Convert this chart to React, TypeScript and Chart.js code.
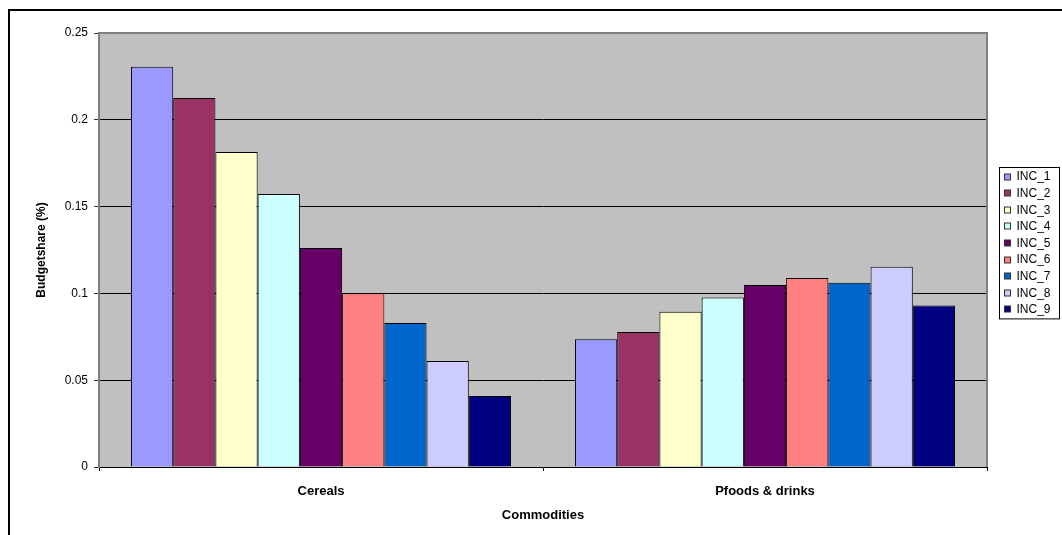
import React, { useEffect, useRef } from "react";
import { Chart, registerables } from "chart.js";

Chart.register(...registerables);

const categories = ["Cereals", "Pfoods & drinks"];
const seriesNames = ["INC_1", "INC_2", "INC_3", "INC_4", "INC_5", "INC_6", "INC_7", "INC_8", "INC_9"];
const inc1 = [0.2305, 0.0736];
const inc2 = [0.2126, 0.0777];
const inc3 = [0.1815, 0.0894];
const inc4 = [0.1573, 0.0976];
const inc5 = [0.1261, 0.1048];
const inc6 = [0.1002, 0.1088];
const inc7 = [0.0829, 0.1061];
const inc8 = [0.061, 0.1153];
const inc9 = [0.0409, 0.093];
const seriesValues = [inc1, inc2, inc3, inc4, inc5, inc6, inc7, inc8, inc9];
const seriesColors = ["#9999FF", "#993366", "#FFFFCC", "#CCFFFF", "#660066", "#FF8080", "#0066CC", "#CCCCFF", "#000080"];
const yMin = 0;
const yMax = 0.25;
const yStep = 0.05;
const xTitle = "Commodities";
const yTitle = "Budgetshare (%)";

const FONT = "'Liberation Sans', Arial, sans-serif";

const decor = {
  id: "decor",
  beforeDraw(chart: any) {
    const { ctx, chartArea: a, width, height } = chart;
    ctx.save();
    ctx.fillStyle = "#ffffff";
    ctx.fillRect(0, 0, width, height);
    ctx.fillStyle = "#C0C0C0";
    ctx.fillRect(a.left, a.top, a.right - a.left, a.bottom - a.top);
    ctx.restore();
  },
  afterDraw(chart: any) {
    const { ctx, chartArea: a, width, height } = chart;
    ctx.save();
    // plot area top / right border
    ctx.strokeStyle = "#808080";
    ctx.lineWidth = 2;
    ctx.beginPath();
    ctx.moveTo(a.left, a.top);
    ctx.lineTo(a.right, a.top);
    ctx.lineTo(a.right, a.bottom);
    ctx.stroke();
    // outer frame (left and top)
    ctx.fillStyle = "#000";
    ctx.fillRect(8, 9, 2, height);
    ctx.fillRect(8, 9, width, 2);
    // legend
    const ds = chart.data.datasets;
    const itemH = 16.6;
    const boxW = 60;
    const boxH = ds.length * itemH + 2;
    const lx = Math.round(a.right + 12) + 0.5;
    const ly = Math.round((a.top + a.bottom) / 2 - 7.5 - boxH / 2) + 0.5;
    ctx.fillStyle = "#fff";
    ctx.fillRect(lx, ly, boxW, boxH);
    ctx.strokeStyle = "#000";
    ctx.lineWidth = 1;
    ctx.strokeRect(lx, ly, boxW, boxH);
    ctx.font = `12px ${FONT}`;
    ctx.textBaseline = "middle";
    ctx.textAlign = "left";
    ds.forEach((d: any, i: number) => {
      const cy = ly + 9 + i * itemH;
      ctx.fillStyle = d.backgroundColor;
      ctx.fillRect(lx + 5, Math.round(cy - 3), 6, 6);
      ctx.strokeStyle = "#333";
      ctx.strokeRect(lx + 5, Math.round(cy - 3), 6, 6);
      ctx.fillStyle = "#000";
      ctx.fillText(d.label, lx + 17, cy + 0.5);
    });
    ctx.restore();
  },
};

export default function App() {
  const ref = useRef<HTMLCanvasElement | null>(null);

  useEffect(() => {
    if (!ref.current) return;
    const chart = new Chart(ref.current, {
      type: "bar",
      data: {
        labels: categories,
        datasets: seriesNames.map((name, i) => ({
          label: name,
          data: seriesValues[i],
          backgroundColor: seriesColors[i],
          borderColor: "#000",
          borderWidth: 1,
          barPercentage: 1,
          categoryPercentage: 0.856,
        })),
      },
      options: {
        animation: false,
        responsive: false,
        devicePixelRatio: 1,
        layout: { padding: { top: 33, right: 75, bottom: 0, left: 0 } },
        plugins: {
          legend: { display: false },
          tooltip: { enabled: false },
        },
        scales: {
          x: {
            type: "category",
            offset: true,
            grid: {
              display: true,
              drawOnChartArea: false,
              offset: true,
              tickLength: 4,
              tickColor: "#000",
              color: "#000",
            },
            border: { color: "#000", width: 1 },
            ticks: {
              color: "#000",
              font: { family: FONT, size: 13, weight: "bold" },
              padding: 13,
            },
            title: {
              display: true,
              text: xTitle,
              color: "#000",
              font: { family: FONT, size: 13, weight: "bold" },
              padding: { top: 0, bottom: 12 },
            },
            afterFit: (s: any) => {
              s.height = 68;
            },
          },
          y: {
            min: yMin,
            max: yMax,
            grid: {
              color: (c: any) => {
                const v = c.tick ? c.tick.value : 0;
                if (Math.abs(v - yMin) < 1e-9) return "rgba(0,0,0,0)";
                if (Math.abs(v - yMax) < 1e-9) return "#808080";
                return "#000";
              },
              tickColor: "#333",
              tickLength: 5,
              lineWidth: 1,
            },
            border: { color: "#808080", width: 2 },
            ticks: {
              stepSize: yStep,
              color: "#000",
              font: { family: FONT, size: 12 },
              padding: 6,
              callback: (v: any) => String(+Number(v).toFixed(2)),
            },
            title: {
              display: true,
              text: yTitle,
              color: "#000",
              font: { family: FONT, size: 12, weight: "bold" },
              padding: { top: 34, bottom: 0 },
            },
            afterFit: (s: any) => {
              s.width = 99;
            },
          },
        },
      } as any,
      plugins: [decor],
    });
    return () => chart.destroy();
  }, []);

  return (
    <div style={{ position: "fixed", left: 0, top: 0, width: 1062, height: 535, background: "#fff" }}>
      <canvas ref={ref} width={1062} height={535} style={{ width: 1062, height: 535, display: "block" }} />
    </div>
  );
}
